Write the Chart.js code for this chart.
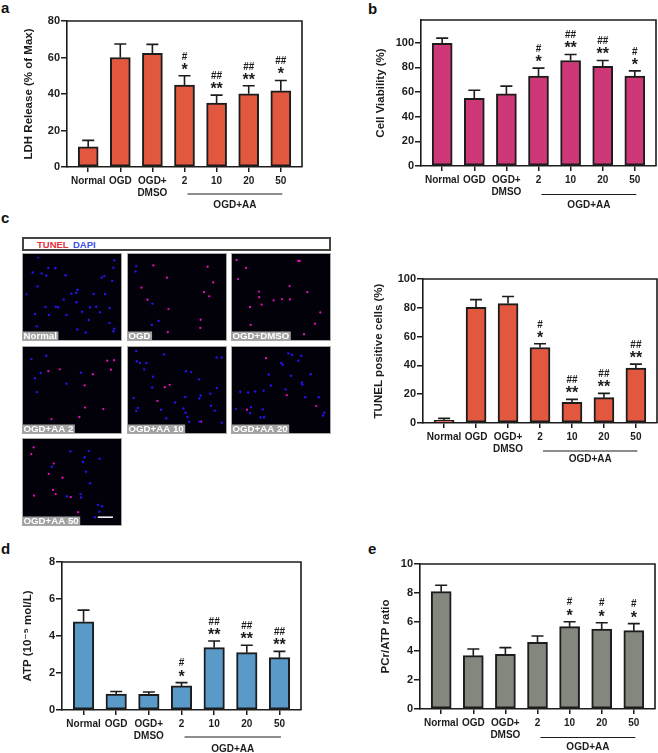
<!DOCTYPE html>
<html>
<head>
<meta charset="utf-8">
<script src="https://cdn.jsdelivr.net/npm/chart.js@4"></script>
<style>
  html, body { margin: 0; padding: 0; background: #fff; }
  body { position: relative; width: 658px; height: 753px; overflow: hidden; font-family: "Liberation Sans", Arial, sans-serif; }
  canvas { position: absolute; }
  canvas.tile { filter: blur(0.3px); }
  .letter { position: absolute; font-weight: bold; font-size: 15px; line-height: 15px; color: #111; }
  #strip { position: absolute; left: 22px; top: 237px; width: 305px; height: 10px; border: 2px solid #444; background: #fff;
           font-weight: bold; font-size: 9.5px; line-height: 11px; padding-left: 0; }
  #strip span { position: absolute; top: 0; }
</style>
</head>
<body>
<div class="letter" style="left:1px;top:0px">a</div>
<div class="letter" style="left:368px;top:1px">b</div>
<div class="letter" style="left:1px;top:210px">c</div>
<div class="letter" style="left:1px;top:541px">d</div>
<div class="letter" style="left:368px;top:541px">e</div>
<div id="strip"><span style="left:13px;color:#e8303f">TUNEL</span><span style="left:49px;color:#3c50e6">DAPI</span></div>
<script>
const categories = ['Normal', 'OGD', ['OGD+', 'DMSO'], '2', '10', '20', '50'];

// bar heights and the top of each error bar
const ldh = [11, 60, 62.3, 44.9, 35, 40.1, 41.8];
const ldhErr = [14.6, 67.4, 67.2, 50, 39.4, 44.5, 47.4];
const ldhHash = ['', '', '', '#', '##', '##', '##'];
const ldhStar = ['', '', '', '*', '**', '**', '*'];

const viability = [99.5, 55, 58.5, 72.9, 85.6, 80.8, 72.9];
const viabilityErr = [103.8, 61.5, 64.8, 79.4, 90.5, 85.6, 77.2];
const viabilityHash = ['', '', '', '#', '##', '##', '#'];
const viabilityStar = ['', '', '', '*', '**', '**', '*'];

const tunel = [1.8, 80.4, 82.9, 52.4, 14.3, 17.6, 38.1];
const tunelErr = [3.2, 85.7, 87.8, 55, 16.4, 20.6, 40.9];
const tunelHash = ['', '', '', '#', '##', '##', '##'];
const tunelStar = ['', '', '', '*', '**', '**', '**'];

const atp = [4.77, 0.86, 0.85, 1.3, 3.37, 3.1, 2.83];
const atpErr = [5.4, 1.0, 0.97, 1.48, 3.73, 3.5, 3.17];
const atpHash = ['', '', '', '#', '##', '##', '##'];
const atpStar = ['', '', '', '*', '**', '**', '**'];

const pcr = [8.09, 3.68, 3.77, 4.6, 5.68, 5.52, 5.4];
const pcrErr = [8.53, 4.14, 4.23, 5.03, 6.02, 5.95, 5.89];
const pcrHash = ['', '', '', '', '#', '#', '#'];
const pcrStar = ['', '', '', '', '*', '*', '*'];

// stained cells in each micrograph, x / y inside a 100 x 88 frame
const normalBlue = [[13.3,0.3],[96,3.7],[95,11.7],[24.3,12],[32,12.3],[7.3,17],[17,18],[22,20.3],[43,20],[85,21],[82.3,22.7],[93.7,26.3],[12.3,32.3],[56,36],[54.7,39.3],[49.3,40.3],[0.3,41],[73.7,40.7],[86,40.7],[41,46.7],[55,49.7],[10,62.7],[21,55],[32.3,54.7],[35,55.3],[69.7,55.3],[76.3,54.7],[90.7,56],[80.3,60.7],[61,60.3],[25,63.7],[44,63.7],[68.3,69.3],[90.7,72.7],[11.7,76.3],[55.7,79.7],[65,83],[96,79],[95,81.7]];
const normalRed = [];
const ogdBlue = [[5.7,10],[5,16],[23.3,51.3],[30,70.3],[22.7,74.7]];
const ogdRed = [[24.3,9.3],[83.3,10.7],[39,22.7],[89.3,28],[11.3,33.7],[79.3,38.7],[85,43.3],[18,47],[40.7,57.3],[75.7,69],[75.3,78],[40,82.7]];
const dmsoBlue = [];
const dmsoRed = [[1.7,3.3],[12,12],[68.7,4.3],[70.3,4.3],[3.3,24.3],[59.3,32],[78.7,38.7],[26,38],[26.3,44.3],[42,47.7],[51,46.3],[59.7,46.7],[29,52.3],[16.3,55],[92.7,61],[87,73.3],[17,74.7],[75,85]];
const aa2Blue = [[6,10],[22,6.3],[9.7,31],[16,25.3],[59.7,25],[44,37],[11.7,46.3]];
const aa2Red = [[24.3,23.3],[36.7,21.3],[88.3,11.7],[95.7,11.3],[92.3,21.7],[72.7,26.7],[63.7,39],[64.3,63.3],[84,65],[58,73.7],[27.7,76]];
const aa10Blue = [[5.7,1],[36,5],[6.3,12.3],[9.7,14.3],[16.7,14.3],[14.3,21.3],[24,29.3],[93,8.3],[98.7,8.3],[59.7,23.3],[65.3,24.3],[74,32.3],[23,41.3],[93.3,41.7],[75.7,50],[86.3,48],[74.3,53.3],[59,51.7],[3,52.7],[48,57.7],[87,61.3],[7.3,63.7],[5.7,67],[32.7,65.7],[57,64.3],[91,66.7],[59.3,69],[61.3,73.7],[38.3,75],[63.3,79],[74.3,79],[98.7,80]];
const aa10Red = [[42,38.3],[36.7,41],[28.7,56],[76.3,78.7]];
const aa20Blue = [[58,3.7],[62,5.3],[72,6.3],[68.7,11.7],[50.3,14.3],[52,16.3],[36.7,27],[61,28.3],[82.3,26.7],[72.7,35.7],[73.3,38],[39,39],[55,43.3],[31,44.7],[22,45.7],[14.3,46.7],[5.7,46],[76.3,52],[91,52],[17.3,62.7],[0.7,65],[16.3,69.3],[30.3,65.3],[27.7,74.3],[31.7,74],[97,69],[95.7,72]];
const aa20Red = [[33.7,9],[56.3,49.7],[88.3,61.7],[13,65.7]];
const aa50Blue = [[48.3,10.3],[68.3,10],[63.7,16.7],[80,18.3],[62,22],[28,27.3],[65.3,32.7],[69.7,45.3],[59.3,57.3],[59.7,61],[44.3,59.7],[78.3,69.3],[82.7,70.7],[79.7,76.7],[75,82.7]];
const aa50Red = [[8.3,6],[5.7,13.3],[30.3,23.7],[24.7,35],[39.7,39.3],[29.3,52.7],[32.3,57.3],[8.7,59],[48.7,60.7],[56.7,77.3]];

const FONT = '"Liberation Sans", Arial, sans-serif';
const INK = '#1c1c1c';

// draws frame, error bars, significance marks and the OGD+AA bracket
const barExtras = {
    id: 'barExtras',
    afterDatasetsDraw(chart, args, opts) {
        const { ctx, chartArea: a, scales: { x, y } } = chart;
        ctx.save();
        ctx.strokeStyle = INK;
        ctx.fillStyle = INK;
        ctx.lineWidth = 1.6;
        ctx.beginPath();
        ctx.moveTo(a.left, a.top); ctx.lineTo(a.right, a.top); ctx.lineTo(a.right, a.bottom);
        ctx.stroke();
        ctx.textAlign = 'center';
        ctx.textBaseline = 'middle';
        opts.err.forEach((top, i) => {
            const px = x.getPixelForValue(i), py = y.getPixelForValue(top);
            ctx.beginPath();
            ctx.moveTo(px, y.getPixelForValue(opts.values[i]));
            ctx.lineTo(px, py);
            ctx.moveTo(px - 6, py);
            ctx.lineTo(px + 6, py);
            ctx.stroke();
            ctx.font = 'bold 16px ' + FONT;
            ctx.fillText(opts.star[i], px, py - 5.5);
            ctx.font = 'bold 10px ' + FONT;
            ctx.fillText(opts.hash[i], px, py - 19);
        });
        // bracket under the dose labels
        const x0 = x.getPixelForValue(3) + 3, x1 = x.getPixelForValue(6) + 1.5;
        ctx.lineWidth = 1.2;
        ctx.beginPath();
        ctx.moveTo(x0, a.bottom + opts.lineGap);
        ctx.lineTo(x1, a.bottom + opts.lineGap);
        ctx.stroke();
        ctx.font = 'bold 10px ' + FONT;
        ctx.fillText('OGD+AA', (x0 + x1) / 2, a.bottom + opts.lineGap + opts.textGap);
        ctx.restore();
    }
};

function barPanel(p) {
    const pt = 8, pr = 1, yW = p.gap + 7, xH = 48;
    const canvas = document.createElement('canvas');
    canvas.width = yW + (p.right - p.left) + pr;
    canvas.height = pt + (p.bottom - p.top) + xH;
    canvas.style.left = (p.left - yW) + 'px';
    canvas.style.top = (p.top - pt) + 'px';
    document.body.appendChild(canvas);
    const axisGrid = { drawOnChartArea: false, color: INK, lineWidth: 1.5 };
    new Chart(canvas, {
        type: 'bar',
        data: {
            datasets: [{
                data: categories.map((c, i) => ({ x: i, y: p.values[i] })),
                backgroundColor: p.color,
                borderColor: INK,
                borderWidth: 2,
                borderSkipped: false,
                barThickness: p.barW || 20
            }]
        },
        options: {
            responsive: false,
            animation: false,
            layout: { padding: { top: pt, right: pr, left: 0, bottom: 0 } },
            plugins: {
                legend: { display: false },
                tooltip: { enabled: false },
                barExtras: { values: p.values, err: p.err, hash: p.hash, star: p.star, lineGap: p.lineGap, textGap: p.textGap }
            },
            scales: {
                x: {
                    type: 'linear',
                    offset: false,
                    min: -0.66,
                    max: 6.66,
                    afterBuildTicks: s => { s.ticks = categories.map((c, i) => ({ value: i })); },
                    afterFit: s => { s.height = xH; },
                    grid: { ...axisGrid, offset: false, tickLength: 5 },
                    border: { color: INK, width: 1.6 },
                    ticks: {
                        autoSkip: false,
                        maxRotation: 0,
                        padding: 3.5,
                        color: INK,
                        font: { family: FONT, size: 10, weight: 'bold', lineHeight: 1.2 },
                        callback: v => categories[v]
                    }
                },
                y: {
                    min: 0,
                    max: p.max,
                    afterFit: s => { s.width = yW; },
                    grid: { ...axisGrid, tickLength: 6 },
                    border: { color: INK, width: 1.6 },
                    title: {
                        display: true,
                        text: p.title,
                        color: INK,
                        padding: 0,
                        font: { family: FONT + ', "DejaVu Sans"', size: 11.5, weight: 'bold', lineHeight: 1.2 }
                    },
                    ticks: {
                        stepSize: p.step,
                        includeBounds: false,
                        padding: 1,
                        color: INK,
                        font: { family: FONT, size: 11, weight: 'bold' }
                    }
                }
            }
        },
        plugins: [barExtras]
    });
}

barPanel({ left: 67, top: 21, right: 302, bottom: 167, gap: 38, max: 80, step: 20, color: '#e2583f', title: 'LDH Release (% of Max)',
    values: ldh, err: ldhErr, hash: ldhHash, star: ldhStar, lineGap: 27, textGap: 11 });
barPanel({ left: 421, top: 20, right: 656, bottom: 166, gap: 40, max: 118.5, step: 20, color: '#ce3878', title: 'Cell Viability (%)',
    values: viability, err: viabilityErr, hash: viabilityHash, star: viabilityStar, lineGap: 28.5, textGap: 11 });
barPanel({ left: 423, top: 279, right: 657, bottom: 423, gap: 44, max: 100, step: 20, color: '#e2583f', title: 'TUNEL positive cells (%)',
    values: tunel, err: tunelErr, hash: tunelHash, star: tunelStar, lineGap: 28, textGap: 8.5 });
barPanel({ left: 62, top: 562, right: 301, bottom: 710, gap: 34, max: 8, step: 2, color: '#5a9ac9', title: 'ATP (10\u207B\u2075 mol/L)', barW: 20.5,
    values: atp, err: atpErr, hash: atpHash, star: atpStar, lineGap: 27, textGap: 12 });
barPanel({ left: 420, top: 564, right: 655, bottom: 709, gap: 34, max: 10, step: 2, color: '#84877e', title: 'PCr/ATP ratio',
    values: pcr, err: pcrErr, hash: pcrHash, star: pcrStar, lineGap: 28.5, textGap: 9.5 });

// black frame, grey caption and optional scale bar of a micrograph
const tileExtras = {
    id: 'tileExtras',
    beforeDatasetsDraw(chart) {
        const { ctx, width, height } = chart;
        ctx.fillStyle = '#020008';
        ctx.fillRect(0, 0, width, height);
    },
    afterDatasetsDraw(chart, args, opts) {
        const { ctx, width, height, scales: { x, y } } = chart;
        ctx.save();
        ctx.font = 'bold 9.7px ' + FONT;
        ctx.textBaseline = 'middle';
        const w = ctx.measureText(opts.caption).width + 3;
        ctx.fillStyle = '#a2a2a2';
        ctx.fillRect(0, height - 9.5, w, 9.5);
        ctx.fillStyle = '#fff';
        ctx.fillText(opts.caption, 1.5, height - 4.5);
        if (opts.scaleBar) {
            ctx.strokeStyle = '#fff';
            ctx.lineWidth = 1.5;
            ctx.beginPath();
            ctx.moveTo(x.getPixelForValue(78), y.getPixelForValue(82.7));
            ctx.lineTo(x.getPixelForValue(94.5), y.getPixelForValue(82.7));
            ctx.stroke();
        }
        ctx.strokeStyle = '#a8a8a8';
        ctx.lineWidth = 1;
        ctx.strokeRect(0.5, 0.5, width - 1, height - 1);
        ctx.restore();
    }
};

function tile(left, top, caption, blue, red, scaleBar) {
    const canvas = document.createElement('canvas');
    canvas.className = 'tile';
    canvas.width = 100;
    canvas.height = 88;
    canvas.style.left = left + 'px';
    canvas.style.top = top + 'px';
    document.body.appendChild(canvas);
    new Chart(canvas, {
        type: 'scatter',
        data: {
            datasets: [
                { data: blue, backgroundColor: '#2414f0', pointRadius: 1.2, pointBorderWidth: 0 },
                { data: red, backgroundColor: '#e810b8', pointRadius: 1.15, pointBorderWidth: 0 }
            ]
        },
        options: {
            responsive: false,
            animation: false,
            plugins: { legend: { display: false }, tooltip: { enabled: false }, tileExtras: { caption, scaleBar } },
            scales: {
                x: { display: false, min: 0, max: 100 },
                y: { display: false, min: 0, max: 88, reverse: true }
            }
        },
        plugins: [tileExtras]
    });
}

tile(22, 253, 'Normal', normalBlue, normalRed);
tile(127, 253, 'OGD', ogdBlue, ogdRed);
tile(231, 253, 'OGD+DMSO', dmsoBlue, dmsoRed);
tile(22, 346, 'OGD+AA 2', aa2Blue, aa2Red);
tile(127, 346, 'OGD+AA 10', aa10Blue, aa10Red);
tile(231, 346, 'OGD+AA 20', aa20Blue, aa20Red);
tile(22, 438, 'OGD+AA 50', aa50Blue, aa50Red, true);
</script>
</body>
</html>
